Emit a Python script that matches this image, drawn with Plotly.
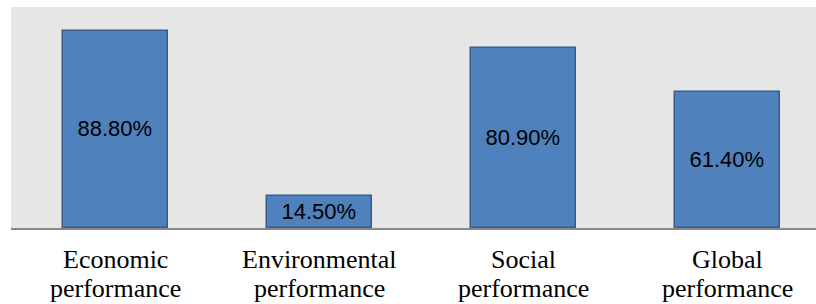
import plotly.graph_objects as go

categories = ["Economic performance", "Environmental performance",
              "Social performance", "Global performance"]
values = [88.8, 14.5, 80.9, 61.4]
labels = ["88.80%", "14.50%", "80.90%", "61.40%"]

fig = go.Figure(go.Bar(
    x=categories, y=values, text=labels,
    textposition="inside", insidetextanchor="middle",
    textfont=dict(family="Liberation Sans", size=22, color="#000000"),
    constraintext="none",
    marker=dict(color="#4f81bd", line=dict(color="#385d8a", width=1.5)),
    width=0.515,
))

# two-line category labels with tight line spacing
for cat in categories:
    first, second = cat.split(" ", 1)
    for line, shift in ((first, -31), (second, -60.5)):
        fig.add_annotation(
            x=cat, xref="x", y=0, yref="paper", yshift=shift,
            text=line, showarrow=False, xanchor="center", yanchor="middle",
            font=dict(family="Liberation Serif", size=26, color="#000000"),
        )

fig.update_layout(
    width=816, height=304,
    margin=dict(l=11, r=0, t=7, b=76),
    paper_bgcolor="#ffffff", plot_bgcolor="#e6e6e6",
    showlegend=False,
    bargap=0,
)
fig.update_xaxes(
    range=[-0.51, 3.436], automargin=False,
    showline=True, linecolor="#888888", linewidth=1.5,
    showticklabels=False, ticks="",
    showgrid=False,
)
fig.update_yaxes(
    range=[0, 99.6], visible=False, showgrid=False, zeroline=False,
    automargin=False,
)

fig.write_html(
    "out.html",
    config={"displayModeBar": False},
    post_script="document.body.style.margin='0';document.body.style.overflow='hidden';",
)
